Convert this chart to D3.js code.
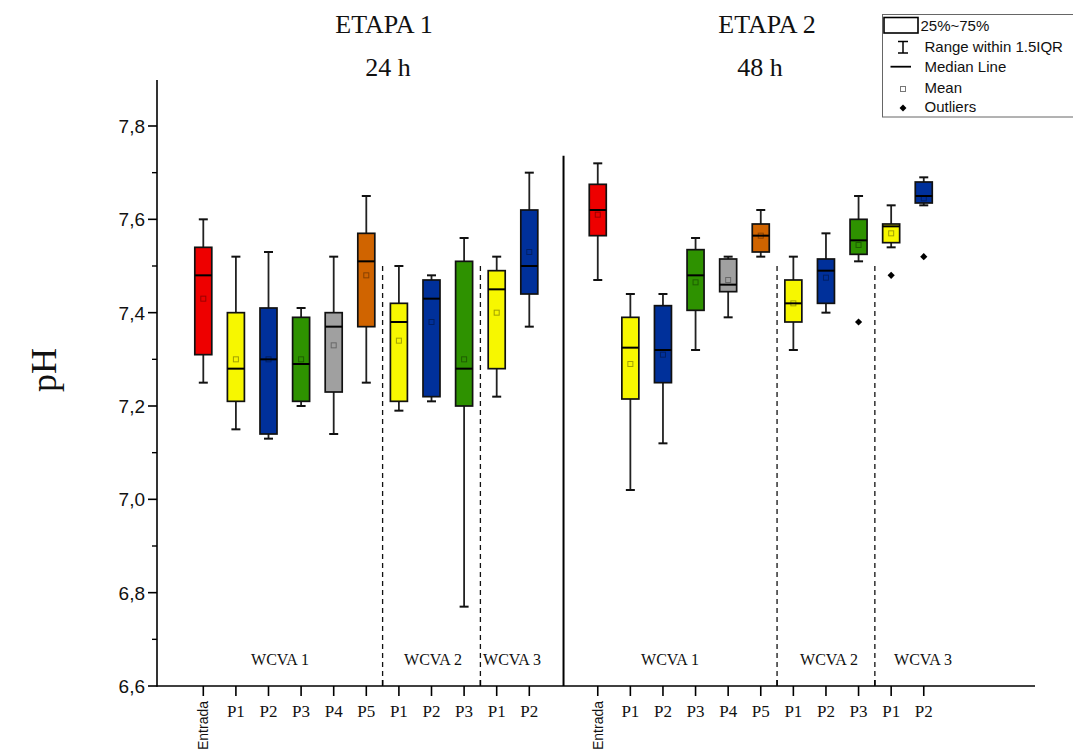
<!DOCTYPE html>
<html>
<head>
<meta charset="utf-8">
<script src="https://cdn.jsdelivr.net/npm/d3@7"></script>
<style>
  html, body { margin: 0; padding: 0; background: #ffffff; }
  svg { display: block; }
</style>
</head>
<body>
<div id="chart"></div>
<script>
// ---- data -------------------------------------------------------------
const categories = ["Entrada", "P1", "P2", "P3", "P4", "P5", "P1", "P2", "P3", "P1", "P2"];
const boxColors  = ["#ee0000", "#f7f700", "#00309a", "#2e9200", "#a0a0a0", "#d06400",
                    "#f7f700", "#00309a", "#2e9200", "#f7f700", "#00309a"];
const stages     = ["ETAPA 1", "ETAPA 2"];
const stageHours = ["24 h", "48 h"];
const groupLabels = ["WCVA 1", "WCVA 2", "WCVA 3"];

// Etapa 1 (24 h)
const s1WhiskerLow  = [7.25, 7.15, 7.13, 7.20, 7.14, 7.25, 7.19, 7.21, 6.77, 7.22, 7.37];
const s1Q1          = [7.31, 7.21, 7.14, 7.21, 7.23, 7.37, 7.21, 7.22, 7.20, 7.28, 7.44];
const s1Median      = [7.48, 7.28, 7.30, 7.29, 7.37, 7.51, 7.38, 7.43, 7.28, 7.45, 7.50];
const s1Q3          = [7.54, 7.40, 7.41, 7.39, 7.40, 7.57, 7.42, 7.47, 7.51, 7.49, 7.62];
const s1WhiskerHigh = [7.60, 7.52, 7.53, 7.41, 7.52, 7.65, 7.50, 7.48, 7.56, 7.52, 7.70];
const s1Mean        = [7.43, 7.30, 7.30, 7.30, 7.33, 7.48, 7.34, 7.38, 7.30, 7.40, 7.53];
const s1Outliers    = [[], [], [], [], [], [], [], [], [], [], []];

// Etapa 2 (48 h)
const s2WhiskerLow  = [7.47, 7.02, 7.12, 7.32, 7.39, 7.52, 7.32, 7.40, 7.51, 7.54, 7.63];
const s2Q1          = [7.565, 7.215, 7.25, 7.405, 7.445, 7.53, 7.38, 7.42, 7.525, 7.55, 7.635];
const s2Median      = [7.62, 7.325, 7.32, 7.48, 7.46, 7.565, 7.42, 7.49, 7.555, 7.585, 7.65];
const s2Q3          = [7.675, 7.39, 7.415, 7.535, 7.515, 7.59, 7.47, 7.515, 7.60, 7.59, 7.68];
const s2WhiskerHigh = [7.72, 7.44, 7.44, 7.56, 7.52, 7.62, 7.52, 7.57, 7.65, 7.63, 7.69];
const s2Mean        = [7.61, 7.29, 7.31, 7.465, 7.47, 7.565, 7.42, 7.475, 7.545, 7.57, 7.645];
const s2Outliers    = [[], [], [], [], [], [], [], [], [7.38], [7.48], [7.52]];

const yTicks = [6.6, 6.8, 7.0, 7.2, 7.4, 7.6, 7.8];
const legendItems = ["25%~75%", "Range within 1.5IQR", "Median Line", "Mean", "Outliers"];

// ---- layout -----------------------------------------------------------
const W = 1073, H = 753;
const svg = d3.select("#chart").append("svg").attr("width", W).attr("height", H);
svg.append("rect").attr("width", W).attr("height", H).attr("fill", "#fff");

const axisLeft = 157, axisBottom = 686, axisTop = 80, axisRight = 1035;
const y = d3.scaleLinear().domain([6.6, 7.9]).range([axisBottom, axisBottom - 1.3 * 466.67]);
// slot index -> pixel; stage 2 starts after a gap
const x = d3.scaleLinear().domain([0, 10]).range([203.3, 529.3]);
const stageOffset = [0, 12.1];
const boxW = 17, capW = 9;

const serif = "'Liberation Serif', 'Times New Roman', serif";
const sans = "'Liberation Sans', Arial, sans-serif";
const fmt = v => d3.format(".1f")(v).replace(".", ",");

// ---- stage dividers ---------------------------------------------------
const g = svg.append("g");
const dividerTop = y(7.5);
stageOffset.forEach(off => {
  [5.5, 8.5].forEach(s => {
    g.append("line")
      .attr("x1", x(s + off)).attr("x2", x(s + off))
      .attr("y1", dividerTop).attr("y2", axisBottom)
      .attr("stroke", "#111").attr("stroke-width", 1.3)
      .attr("stroke-dasharray", "5,4");
    g.append("line")
      .attr("x1", x(s + off)).attr("x2", x(s + off))
      .attr("y1", axisBottom - 6).attr("y2", axisBottom)
      .attr("stroke", "#000").attr("stroke-width", 1.5);
  });
});
g.append("line")
  .attr("x1", x(11.05)).attr("x2", x(11.05))
  .attr("y1", y(7.736)).attr("y2", axisBottom)
  .attr("stroke", "#000").attr("stroke-width", 2);

// ---- boxes ------------------------------------------------------------
const stageData = [
  { lo: s1WhiskerLow, q1: s1Q1, med: s1Median, q3: s1Q3, hi: s1WhiskerHigh, mean: s1Mean, out: s1Outliers },
  { lo: s2WhiskerLow, q1: s2Q1, med: s2Median, q3: s2Q3, hi: s2WhiskerHigh, mean: s2Mean, out: s2Outliers }
];

stageData.forEach((sd, si) => {
  categories.forEach((c, i) => {
    const cx = x(i + stageOffset[si]);
    const bg = g.append("g");
    // whiskers
    bg.append("line").attr("x1", cx).attr("x2", cx)
      .attr("y1", y(sd.q1[i])).attr("y2", y(sd.lo[i]))
      .attr("stroke", "#222").attr("stroke-width", 1.8);
    bg.append("line").attr("x1", cx).attr("x2", cx)
      .attr("y1", y(sd.hi[i])).attr("y2", y(sd.q3[i]))
      .attr("stroke", "#222").attr("stroke-width", 1.8);
    [sd.hi[i], sd.lo[i]].forEach(v => {
      bg.append("line").attr("x1", cx - capW / 2).attr("x2", cx + capW / 2)
        .attr("y1", y(v)).attr("y2", y(v))
        .attr("stroke", "#111").attr("stroke-width", 2);
    });
    // interquartile box
    bg.append("rect")
      .attr("x", cx - boxW / 2).attr("width", boxW)
      .attr("y", y(sd.q3[i])).attr("height", y(sd.q1[i]) - y(sd.q3[i]))
      .attr("fill", boxColors[i]).attr("stroke", "#111").attr("stroke-width", 1.7);
    // median
    bg.append("line").attr("x1", cx - boxW / 2).attr("x2", cx + boxW / 2)
      .attr("y1", y(sd.med[i])).attr("y2", y(sd.med[i]))
      .attr("stroke", "#000").attr("stroke-width", 2);
    // mean
    bg.append("rect")
      .attr("x", cx - 2.5).attr("y", y(sd.mean[i]) - 2.5)
      .attr("width", 5).attr("height", 5)
      .attr("fill", "none").attr("stroke", "rgba(0,0,0,0.35)").attr("stroke-width", 1);
    // outliers
    sd.out[i].forEach(v => {
      bg.append("path")
        .attr("d", d3.symbol(d3.symbolSquare, 26)())
        .attr("transform", `translate(${cx},${y(v)}) rotate(45)`)
        .attr("fill", "#000");
    });
  });
});

// ---- axes -------------------------------------------------------------
const ax = svg.append("g");
ax.append("line").attr("x1", axisLeft).attr("x2", axisLeft)
  .attr("y1", axisTop).attr("y2", axisBottom + 0.75)
  .attr("stroke", "#000").attr("stroke-width", 1.6);
ax.append("line").attr("x1", axisLeft).attr("x2", axisRight)
  .attr("y1", axisBottom).attr("y2", axisBottom)
  .attr("stroke", "#000").attr("stroke-width", 1.6);

yTicks.forEach(v => {
  ax.append("line").attr("x1", axisLeft - 9).attr("x2", axisLeft)
    .attr("y1", y(v)).attr("y2", y(v)).attr("stroke", "#000").attr("stroke-width", 1.6);
  ax.append("text").attr("x", axisLeft - 12).attr("y", y(v)).attr("dy", "0.36em")
    .attr("text-anchor", "end").attr("font-family", sans).attr("font-size", 19)
    .attr("fill", "#111").text(fmt(v));
});
d3.range(6.7, 7.85, 0.2).forEach(v => {
  ax.append("line").attr("x1", axisLeft - 5).attr("x2", axisLeft)
    .attr("y1", y(v)).attr("y2", y(v)).attr("stroke", "#000").attr("stroke-width", 1.4);
});

stageOffset.forEach(off => {
  categories.forEach((c, i) => {
    const cx = x(i + off);
    ax.append("line").attr("x1", cx).attr("x2", cx)
      .attr("y1", axisBottom).attr("y2", axisBottom + 10)
      .attr("stroke", "#000").attr("stroke-width", 1.6);
    if (c === "Entrada") {
      ax.append("text")
        .attr("transform", `translate(${cx},${axisBottom + 15}) rotate(-90)`)
        .attr("dy", "0.36em").attr("text-anchor", "end")
        .attr("font-family", sans).attr("font-size", 14).attr("fill", "#111").text(c);
    } else {
      ax.append("text").attr("x", cx).attr("y", axisBottom + 31)
        .attr("text-anchor", "middle").attr("font-family", serif).attr("font-size", 17)
        .attr("fill", "#111").text(c);
    }
  });
});

// ---- labels -----------------------------------------------------------
const groupX = [[280, 433, 512], [670, 829, 923]];
groupX.forEach(row => row.forEach((gx, k) => {
  svg.append("text").attr("x", gx).attr("y", 665).attr("text-anchor", "middle")
    .attr("font-family", serif).attr("font-size", 16).attr("fill", "#111").text(groupLabels[k]);
}));

const stageX = [[384, 388], [767, 760]];
stages.forEach((s, k) => {
  svg.append("text").attr("x", stageX[k][0]).attr("y", 33).attr("text-anchor", "middle")
    .attr("font-family", serif).attr("font-size", 26).attr("fill", "#111").text(s);
  svg.append("text").attr("x", stageX[k][1]).attr("y", 76).attr("text-anchor", "middle")
    .attr("font-family", serif).attr("font-size", 26).attr("fill", "#111").text(stageHours[k]);
});

svg.append("text").attr("transform", "translate(56,370) rotate(-90)")
  .attr("text-anchor", "middle").attr("font-family", serif).attr("font-size", 36)
  .attr("fill", "#111").text("pH");

// ---- legend -----------------------------------------------------------
const lg = svg.append("g");
lg.append("rect").attr("x", 882.5).attr("y", 14.5).attr("width", 200).attr("height", 102.5)
  .attr("fill", "#fff").attr("stroke", "#666").attr("stroke-width", 1);
const rowY = [30.5, 51.5, 72, 92.5, 112];
const symX = 903;
lg.append("rect").attr("x", 884).attr("y", 17.5).attr("width", 34).attr("height", 15.5)
  .attr("fill", "#fff").attr("stroke", "#000").attr("stroke-width", 1.6);
lg.append("line").attr("x1", symX).attr("x2", symX).attr("y1", 41.5).attr("y2", 53)
  .attr("stroke", "#000").attr("stroke-width", 1.5);
[41.5, 53].forEach(v => lg.append("line").attr("x1", symX - 5).attr("x2", symX + 5)
  .attr("y1", v).attr("y2", v).attr("stroke", "#000").attr("stroke-width", 1.5));
lg.append("line").attr("x1", 890.5).attr("x2", 911).attr("y1", 66.7).attr("y2", 66.7)
  .attr("stroke", "#000").attr("stroke-width", 1.8);
lg.append("rect").attr("x", symX - 2.5).attr("y", 86.5).attr("width", 5).attr("height", 5)
  .attr("fill", "none").attr("stroke", "#777").attr("stroke-width", 1);
lg.append("path").attr("d", d3.symbol(d3.symbolSquare, 24)())
  .attr("transform", `translate(${symX},108) rotate(45)`).attr("fill", "#000");
legendItems.forEach((t, k) => {
  lg.append("text").attr("x", k === 0 ? 920.5 : 924.5).attr("y", rowY[k])
    .attr("font-family", sans).attr("font-size", 15).attr("fill", "#111").text(t);
});
</script>
</body>
</html>
